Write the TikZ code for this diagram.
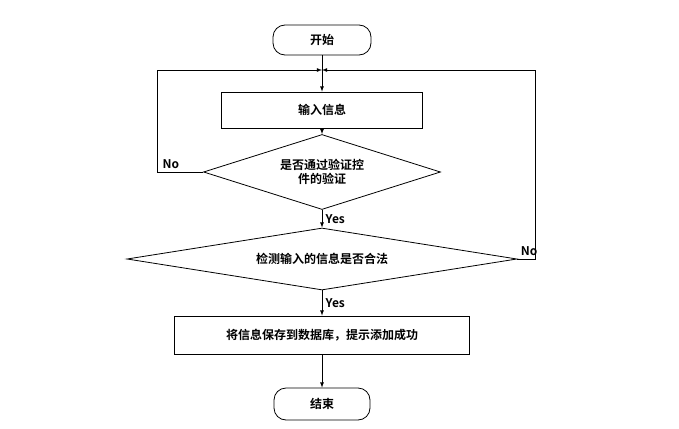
\documentclass[tikz,border=0pt]{standalone}
\usepackage{fontspec}
\setmainfont{Liberation Sans}
\newfontfamily\cjk{Noto Sans CJK SC}[BoldFont={Noto Sans CJK SC Bold}]
\usetikzlibrary{shapes,arrows,positioning}

\begin{document}
\begin{tikzpicture}[x=1pt, y=-1pt, font=\cjk\bfseries\fontsize{12}{14}\selectfont]
% Define styles
\tikzstyle{startstop} = [rectangle, rounded corners=12pt, minimum width=98pt, minimum height=30pt, text centered, draw=black, thick]
\tikzstyle{process} = [rectangle, minimum height=36pt, text centered, draw=black, thick]
\tikzstyle{decision} = [diamond, aspect=3.3, inner sep=0pt, text centered, draw=black, thick, align=center]
\tikzstyle{arrow} = [thick,->,>=latex]
\useasboundingbox (0,0) rectangle (679,428);

% Define nodes
\node (start) [startstop] at (322,40) {开始};
\coordinate (join) at (322,70);
\node (input) [process, minimum width=201pt] at (322,110) {输入信息};
\node (check) [decision, minimum width=237pt, minimum height=75pt] at (322,172) {是否通过验证控\\件的验证};
\node (legal) [decision, minimum width=390pt, minimum height=62pt] at (322,259) {检测输入的信息是否合法};
\node (save) [process, minimum width=295pt, minimum height=38pt] at (322,335) {将信息保存到数据库，提示添加成功};
\node (stop) [startstop, minimum width=96pt, minimum height=32pt] at (322,404) {结束};

% Draw arrows
\draw [arrow] (start) -- (input);
\draw [arrow] (input) -- (check);
\draw [arrow] (check) -- node[anchor=west] {Yes} (legal);
\draw [arrow] (legal) -- node[anchor=west] {Yes} (save);
\draw [arrow] (save) -- (stop);
\draw [arrow] (check.west) -- node[anchor=south, pos=0.7] {No} (157,172) |- (join);
\draw [arrow] (legal.east) -- node[anchor=south, pos=0.5, xshift=3pt] {No} (535,259) |- (join);
\end{tikzpicture}
\end{document}
